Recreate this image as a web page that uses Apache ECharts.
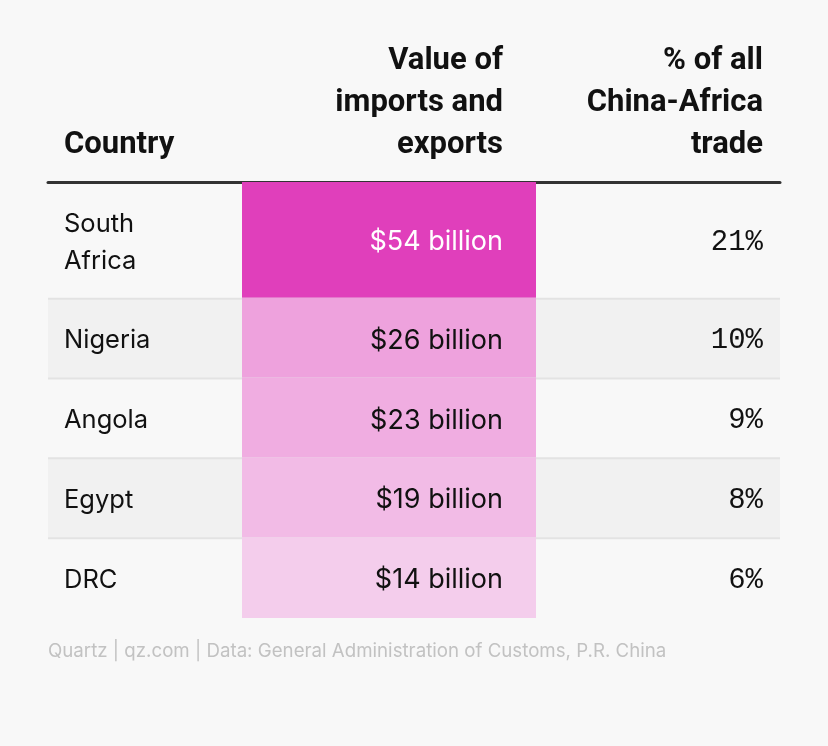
<!DOCTYPE html>
<html>
<head>
<meta charset="utf-8">
<script src="https://cdn.jsdelivr.net/npm/echarts@6/dist/echarts.min.js"></script>
<style>
  html, body { margin: 0; padding: 0; background: #f8f8f8; }
  #tradeTable { width: 828px; height: 746px; }
</style>
</head>
<body>
<div id="tradeTable"></div>
<script>
// table contents
var countries = ['South\nAfrica', 'Nigeria', 'Angola', 'Egypt', 'DRC'];
var tradeValues = [54, 26, 23, 19, 14];      // $ billion
var tradeShares = [21, 10, 9, 8, 6];         // % of all China-Africa trade
var headerLabels = ['Country', 'Value of\nimports and\nexports', '% of all\nChina-Africa\ntrade'];
var sourceNote = 'Quartz | qz.com | Data: General Administration of Customs, P.R. China';

// layout: row height grows with the number of text lines
var LINE_H = 37, ROW_PAD = 43;
var colEdges = [0, 194, 488, 732];
var rowHeights = countries.map(function (c) { return ROW_PAD + LINE_H * c.split('\n').length; });
var rowStarts = [];
var total = 0;
rowHeights.forEach(function (h) { rowStarts.push(total); total += h; });

var headFont = 'Roboto, "Noto Sans", sans-serif';
var bodyFont = 'Inter, "Noto Sans", sans-serif';
var monoFont = '"Liberation Mono", "DejaVu Sans Mono", monospace';

var chart = echarts.init(document.getElementById('tradeTable'));

function renderRow(params, api) {
  var i = api.value(0);
  var val = api.value(1);
  var top = rowStarts[i], bottom = top + rowHeights[i];
  var pTL = api.coord([colEdges[0], top]);
  var pBR = api.coord([colEdges[3], bottom]);
  var vL = api.coord([colEdges[1], top])[0];
  var vR = api.coord([colEdges[2], top])[0];
  var midY = (pTL[1] + pBR[1]) / 2 + 2;
  var fill = api.visual('color');
  var children = [];
  if (i % 2 === 1) {
    children.push({ type: 'rect', shape: { x: pTL[0], y: pTL[1], width: pBR[0] - pTL[0], height: pBR[1] - pTL[1] },
      style: { fill: '#f1f1f1' } });
  }
  if (i > 0) {
    children.push({ type: 'rect', shape: { x: pTL[0], y: pTL[1] - 1, width: pBR[0] - pTL[0], height: 2 },
      style: { fill: '#e3e3e3' } });
  }
  children.push({ type: 'rect', shape: { x: vL, y: pTL[1] - (i > 0 ? 1 : 0), width: vR - vL, height: pBR[1] - pTL[1] + (i > 0 ? 1 : 0) },
    style: { fill: fill } });
  children.push({ type: 'text', style: { text: countries[i], x: pTL[0] + 16, y: midY,
    align: 'left', verticalAlign: 'middle', font: '25.5px ' + bodyFont, lineHeight: LINE_H, fill: '#111' } });
  children.push({ type: 'text', style: { text: '$' + val + ' billion', x: vR - 33, y: midY,
    align: 'right', verticalAlign: 'middle', font: '27px ' + bodyFont, fill: val > 40 ? '#ffffff' : '#111' } });
  children.push({ type: 'text', style: { text: tradeShares[i] + '%', x: pBR[0] - 17, y: midY,
    align: 'right', verticalAlign: 'middle', font: '29px ' + monoFont, fill: '#111' } });
  return { type: 'group', children: children };
}

var option = {
  backgroundColor: '#f8f8f8',
  animation: false,
  grid: { left: 48, right: 48, top: 182, bottom: 128 },
  xAxis: {
    type: 'value', min: 0, max: colEdges[3], position: 'top',
    axisLine: { show: true, lineStyle: { color: '#333', width: 3 } },
    axisTick: { show: false }, axisLabel: { show: false }, splitLine: { show: false }
  },
  yAxis: {
    type: 'value', min: 0, max: total, inverse: true, show: false
  },
  visualMap: {
    show: false, type: 'continuous', seriesIndex: 0, dimension: 1,
    min: 14, max: 54,
    inRange: { color: ['#f4cdec', '#e03fbb'] }
  },
  series: [{
    type: 'custom',
    renderItem: renderRow,
    data: tradeValues.map(function (v, i) { return [i, v]; }),
    z: 1
  }],
  graphic: [
    { type: 'text', style: { text: headerLabels[0], x: 64, y: 166, align: 'left', verticalAlign: 'bottom',
      font: 'bold 31px ' + headFont, lineHeight: 42, fill: '#111' } },
    { type: 'text', style: { text: headerLabels[1], x: 503, y: 166, align: 'right', verticalAlign: 'bottom',
      font: 'bold 31px ' + headFont, lineHeight: 42, fill: '#111' } },
    { type: 'text', style: { text: headerLabels[2], x: 763, y: 166, align: 'right', verticalAlign: 'bottom',
      font: 'bold 31px ' + headFont, lineHeight: 42, fill: '#111' } },
    { type: 'text', style: { text: sourceNote, x: 48, y: 651, align: 'left', verticalAlign: 'middle',
      font: '18.7px ' + bodyFont, fill: '#c2c2c2' } }
  ]
};
chart.setOption(option);
</script>
</body>
</html>
